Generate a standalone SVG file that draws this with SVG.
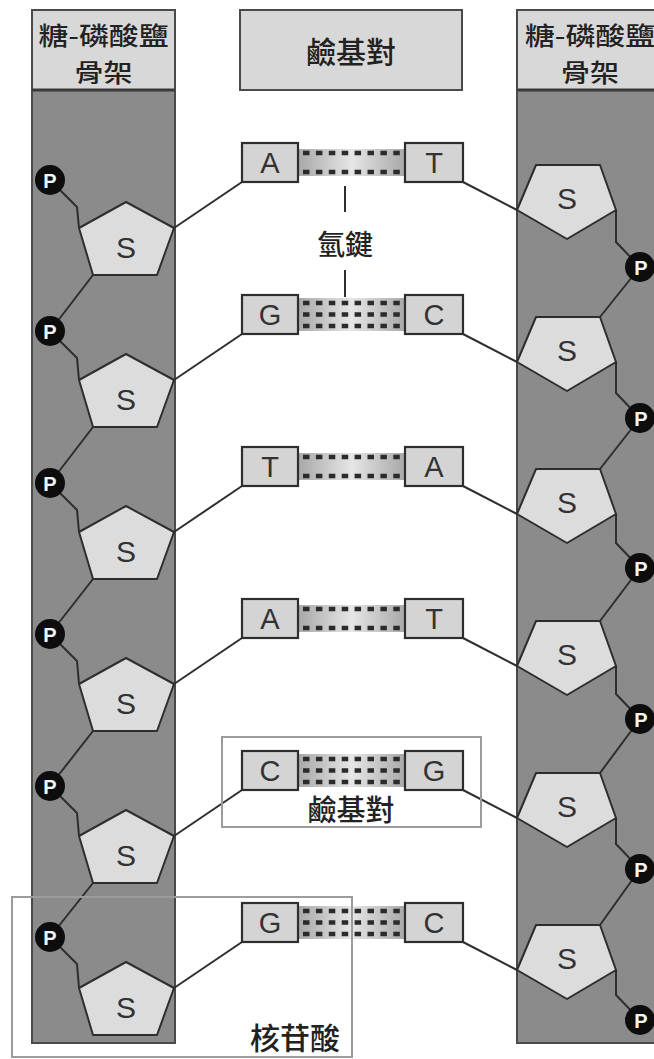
<svg xmlns="http://www.w3.org/2000/svg" width="654" height="1059" viewBox="0 0 654 1059">
  <style>
    .col { fill: #8b8b8b; stroke: #4a4a4a; stroke-width: 2; }
    .head { fill: #d8d8d8; stroke: #4a4a4a; stroke-width: 2; }
    .sep { stroke: #3a3a3a; stroke-width: 3; }
    .sugar { fill: #dcdcdc; stroke: #2e2e2e; stroke-width: 2; stroke-linejoin: round; }
    .base { fill: #d4d4d4; stroke: #2e2e2e; stroke-width: 2.2; }
    .link { fill: none; stroke: #2e2e2e; stroke-width: 2; }
    .bond { stroke: #2b2b2b; stroke-width: 4.5; stroke-dasharray: 6.5 6.4; }
    .phos { fill: #0d0d0d; }
    .frame { fill: none; stroke: #9c9c9c; stroke-width: 2; }
    .cjk { font-family: "Noto Sans CJK TC", "Noto Sans CJK SC", sans-serif; font-weight: 500; fill: #222; text-anchor: middle; dominant-baseline: central; }
    .lat { font-family: "Liberation Sans", Arial, sans-serif; fill: #333; text-anchor: middle; dominant-baseline: central; }
    .pl { font-family: "Liberation Sans", Arial, sans-serif; font-weight: bold; fill: #f4f4f4; text-anchor: middle; dominant-baseline: central; font-size: 20px; }
  </style>
  <defs>
    <linearGradient id="bandFill" x1="0" x2="1" y1="0" y2="0">
      <stop offset="0" stop-color="#a8a8a8"/>
      <stop offset="0.5" stop-color="#e6e6e6"/>
      <stop offset="1" stop-color="#a8a8a8"/>
    </linearGradient>
  </defs>
  <rect width="654" height="1059" fill="#ffffff"/>

  <!-- backbone columns -->
  <g id="backbone-left">
    <rect class="col" x="32" y="10" width="143" height="1033"/>
    <rect class="head" x="32" y="10" width="143" height="80"/>
    <line class="sep" x1="32" y1="90" x2="175" y2="90"/>
    <text class="cjk" x="103.5" y="34" font-size="25" textLength="130" lengthAdjust="spacingAndGlyphs">糖-磷酸鹽</text>
    <text class="cjk" x="103.5" y="71" font-size="25" textLength="58" lengthAdjust="spacingAndGlyphs">骨架</text>
  </g>
  <g id="backbone-right">
    <rect class="col" x="517" y="10" width="150" height="1033"/>
    <rect class="head" x="517" y="10" width="150" height="80"/>
    <line class="sep" x1="517" y1="90" x2="667" y2="90"/>
    <text class="cjk" x="590" y="34" font-size="25" textLength="130" lengthAdjust="spacingAndGlyphs">糖-磷酸鹽</text>
    <text class="cjk" x="590" y="71" font-size="25" textLength="58" lengthAdjust="spacingAndGlyphs">骨架</text>
  </g>
  <g id="header-pairs">
    <rect class="head" x="240" y="10" width="222" height="80"/>
    <text class="cjk" x="351" y="50" font-size="30">鹼基對</text>
  </g>

  <!-- connectors: backbone links and base-to-sugar links -->
  <g id="connectors">
    <!-- left strand: phosphate to sugar -->
    <polyline class="link" points="50,180 77,207 79,228"/>
    <polyline class="link" points="50,331 77,358 79,380"/>
    <polyline class="link" points="50,483 77,510 79,532"/>
    <polyline class="link" points="50,634 77,661 79,684"/>
    <polyline class="link" points="50,786 77,813 79,836"/>
    <polyline class="link" points="50,937 77,964 79,988"/>
    <!-- left strand: sugar to next phosphate -->
    <line class="link" x1="93" y1="275" x2="50" y2="331"/>
    <line class="link" x1="93" y1="427" x2="50" y2="483"/>
    <line class="link" x1="93" y1="579" x2="50" y2="634"/>
    <line class="link" x1="93" y1="731" x2="50" y2="786"/>
    <line class="link" x1="93" y1="883" x2="50" y2="937"/>
    <!-- right strand: sugar to phosphate -->
    <polyline class="link" points="616,210 616,242 640,267"/>
    <polyline class="link" points="616,362 616,393 640,418"/>
    <polyline class="link" points="616,514 616,543 640,568"/>
    <polyline class="link" points="616,666 616,694 640,719"/>
    <polyline class="link" points="616,818 616,844 640,869"/>
    <polyline class="link" points="616,970 616,995 640,1020"/>
    <!-- right strand: phosphate to next sugar -->
    <line class="link" x1="640" y1="267" x2="600" y2="317"/>
    <line class="link" x1="640" y1="418" x2="600" y2="469"/>
    <line class="link" x1="640" y1="568" x2="600" y2="621"/>
    <line class="link" x1="640" y1="719" x2="600" y2="773"/>
    <line class="link" x1="640" y1="869" x2="600" y2="925"/>
    <!-- base to sugar, left -->
    <line class="link" x1="242" y1="182" x2="174" y2="228"/>
    <line class="link" x1="242" y1="334" x2="174" y2="380"/>
    <line class="link" x1="242" y1="486" x2="174" y2="532"/>
    <line class="link" x1="242" y1="638" x2="174" y2="684"/>
    <line class="link" x1="242" y1="790" x2="174" y2="836"/>
    <line class="link" x1="242" y1="942" x2="174" y2="988"/>
    <!-- base to sugar, right -->
    <line class="link" x1="463" y1="182" x2="517" y2="210"/>
    <line class="link" x1="463" y1="334" x2="517" y2="362"/>
    <line class="link" x1="463" y1="486" x2="517" y2="514"/>
    <line class="link" x1="463" y1="638" x2="517" y2="666"/>
    <line class="link" x1="463" y1="790" x2="517" y2="818"/>
    <line class="link" x1="463" y1="942" x2="517" y2="970"/>
  </g>

  <!-- left sugars -->
  <g id="sugar-l1"><polygon class="sugar" points="126,202 174,228 157,275 93,275 79,228"/><text class="lat" x="126" y="247" font-size="30">S</text></g>
  <g id="sugar-l2"><polygon class="sugar" points="126,354 174,380 157,427 93,427 79,380"/><text class="lat" x="126" y="399" font-size="30">S</text></g>
  <g id="sugar-l3"><polygon class="sugar" points="126,506 174,532 157,579 93,579 79,532"/><text class="lat" x="126" y="551" font-size="30">S</text></g>
  <g id="sugar-l4"><polygon class="sugar" points="126,658 174,684 157,731 93,731 79,684"/><text class="lat" x="126" y="703" font-size="30">S</text></g>
  <g id="sugar-l5"><polygon class="sugar" points="126,810 174,836 157,883 93,883 79,836"/><text class="lat" x="126" y="855" font-size="30">S</text></g>
  <g id="sugar-l6"><polygon class="sugar" points="126,962 174,988 157,1035 93,1035 79,988"/><text class="lat" x="126" y="1007" font-size="30">S</text></g>

  <!-- right sugars -->
  <g id="sugar-r1"><polygon class="sugar" points="536,165 600,165 616,210 567,239 517,210"/><text class="lat" x="567" y="198" font-size="30">S</text></g>
  <g id="sugar-r2"><polygon class="sugar" points="536,317 600,317 616,362 567,391 517,362"/><text class="lat" x="567" y="350" font-size="30">S</text></g>
  <g id="sugar-r3"><polygon class="sugar" points="536,469 600,469 616,514 567,543 517,514"/><text class="lat" x="567" y="502" font-size="30">S</text></g>
  <g id="sugar-r4"><polygon class="sugar" points="536,621 600,621 616,666 567,695 517,666"/><text class="lat" x="567" y="654" font-size="30">S</text></g>
  <g id="sugar-r5"><polygon class="sugar" points="536,773 600,773 616,818 567,847 517,818"/><text class="lat" x="567" y="806" font-size="30">S</text></g>
  <g id="sugar-r6"><polygon class="sugar" points="536,925 600,925 616,970 567,999 517,970"/><text class="lat" x="567" y="958" font-size="30">S</text></g>

  <!-- phosphates -->
  <g id="phos-l1"><circle class="phos" cx="50" cy="180" r="15"/><text class="pl" x="50" y="181">P</text></g>
  <g id="phos-l2"><circle class="phos" cx="50" cy="331" r="15"/><text class="pl" x="50" y="332">P</text></g>
  <g id="phos-l3"><circle class="phos" cx="50" cy="483" r="15"/><text class="pl" x="50" y="484">P</text></g>
  <g id="phos-l4"><circle class="phos" cx="50" cy="634" r="15"/><text class="pl" x="50" y="635">P</text></g>
  <g id="phos-l5"><circle class="phos" cx="50" cy="786" r="15"/><text class="pl" x="50" y="787">P</text></g>
  <g id="phos-l6"><circle class="phos" cx="50" cy="937" r="15"/><text class="pl" x="50" y="938">P</text></g>
  <g id="phos-r1"><circle class="phos" cx="640" cy="267" r="15"/><text class="pl" x="641" y="268">P</text></g>
  <g id="phos-r2"><circle class="phos" cx="640" cy="418" r="15"/><text class="pl" x="641" y="419">P</text></g>
  <g id="phos-r3"><circle class="phos" cx="640" cy="568" r="15"/><text class="pl" x="641" y="569">P</text></g>
  <g id="phos-r4"><circle class="phos" cx="640" cy="719" r="15"/><text class="pl" x="641" y="720">P</text></g>
  <g id="phos-r5"><circle class="phos" cx="640" cy="869" r="15"/><text class="pl" x="641" y="870">P</text></g>
  <g id="phos-r6"><circle class="phos" cx="640" cy="1020" r="15"/><text class="pl" x="641" y="1021">P</text></g>

  <!-- hydrogen bonds between paired bases -->
  <g id="bonds">
    <rect x="298" y="149" width="107" height="27" fill="url(#bandFill)"/>
    <line class="bond" x1="303" y1="153" x2="400" y2="153"/>
    <line class="bond" x1="303" y1="172" x2="400" y2="172"/>

    <rect x="298" y="298" width="107" height="33" fill="url(#bandFill)"/>
    <line class="bond" x1="303" y1="303" x2="400" y2="303"/>
    <line class="bond" x1="303" y1="314.5" x2="400" y2="314.5"/>
    <line class="bond" x1="303" y1="326" x2="400" y2="326"/>

    <rect x="298" y="453" width="107" height="27" fill="url(#bandFill)"/>
    <line class="bond" x1="303" y1="457" x2="400" y2="457"/>
    <line class="bond" x1="303" y1="476" x2="400" y2="476"/>

    <rect x="298" y="605" width="107" height="27" fill="url(#bandFill)"/>
    <line class="bond" x1="303" y1="609" x2="400" y2="609"/>
    <line class="bond" x1="303" y1="628" x2="400" y2="628"/>

    <rect x="298" y="754" width="107" height="33" fill="url(#bandFill)"/>
    <line class="bond" x1="303" y1="759" x2="400" y2="759"/>
    <line class="bond" x1="303" y1="770.5" x2="400" y2="770.5"/>
    <line class="bond" x1="303" y1="782" x2="400" y2="782"/>

    <rect x="298" y="906" width="107" height="33" fill="url(#bandFill)"/>
    <line class="bond" x1="303" y1="911" x2="400" y2="911"/>
    <line class="bond" x1="303" y1="922.5" x2="400" y2="922.5"/>
    <line class="bond" x1="303" y1="934" x2="400" y2="934"/>
  </g>

  <!-- bases -->
  <g id="base-1a"><rect class="base" x="242" y="143" width="56" height="39"/><text class="lat" x="270" y="163" font-size="29">A</text></g>
  <g id="base-1b"><rect class="base" x="405" y="143" width="58" height="39"/><text class="lat" x="434" y="163" font-size="29">T</text></g>
  <g id="base-2a"><rect class="base" x="242" y="295" width="56" height="39"/><text class="lat" x="270" y="315" font-size="29">G</text></g>
  <g id="base-2b"><rect class="base" x="405" y="295" width="58" height="39"/><text class="lat" x="434" y="315" font-size="29">C</text></g>
  <g id="base-3a"><rect class="base" x="242" y="447" width="56" height="39"/><text class="lat" x="270" y="467" font-size="29">T</text></g>
  <g id="base-3b"><rect class="base" x="405" y="447" width="58" height="39"/><text class="lat" x="434" y="467" font-size="29">A</text></g>
  <g id="base-4a"><rect class="base" x="242" y="599" width="56" height="39"/><text class="lat" x="270" y="619" font-size="29">A</text></g>
  <g id="base-4b"><rect class="base" x="405" y="599" width="58" height="39"/><text class="lat" x="434" y="619" font-size="29">T</text></g>
  <g id="base-5a"><rect class="base" x="242" y="751" width="56" height="39"/><text class="lat" x="270" y="771" font-size="29">C</text></g>
  <g id="base-5b"><rect class="base" x="405" y="751" width="58" height="39"/><text class="lat" x="434" y="771" font-size="29">G</text></g>
  <g id="base-6a"><rect class="base" x="242" y="903" width="56" height="39"/><text class="lat" x="270" y="923" font-size="29">G</text></g>
  <g id="base-6b"><rect class="base" x="405" y="903" width="58" height="39"/><text class="lat" x="434" y="923" font-size="29">C</text></g>

  <!-- hydrogen bond label -->
  <g id="label-hbond">
    <line class="link" x1="345" y1="186" x2="345" y2="212"/>
    <line class="link" x1="345" y1="270" x2="345" y2="297"/>
    <text class="cjk" x="345" y="243" font-size="28">氫鍵</text>
  </g>

  <!-- base pair outline -->
  <g id="label-basepair">
    <rect class="frame" x="222" y="737" width="259" height="90"/>
    <text class="cjk" x="351" y="808" font-size="29">鹼基對</text>
  </g>

  <!-- nucleotide outline -->
  <g id="label-nucleotide">
    <rect class="frame" x="12" y="897" width="340" height="160"/>
    <text class="cjk" x="295" y="1036" font-size="30">核苷酸</text>
  </g>
</svg>
